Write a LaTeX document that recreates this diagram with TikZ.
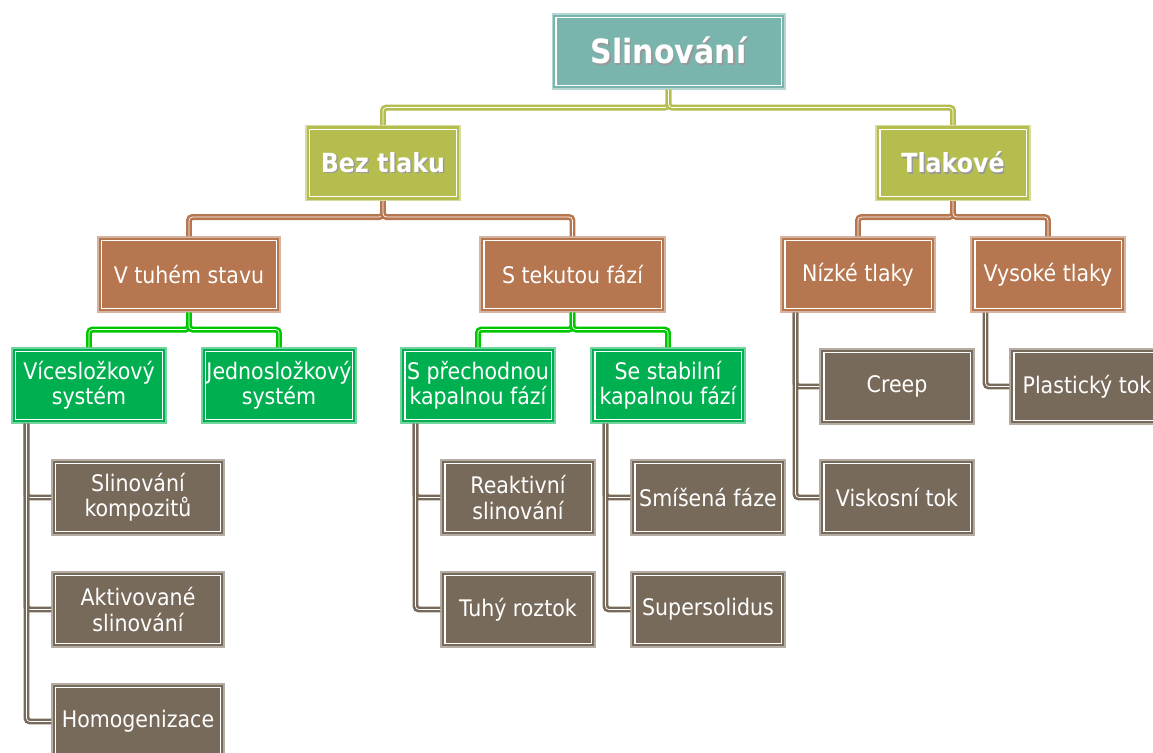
\documentclass[tikz,border=0pt]{standalone}
\usepackage{fontspec}
\setmainfont{DejaVu Sans Condensed}
\usepackage{xcolor}
\usetikzlibrary{calc}
\definecolor{tealbox}{HTML}{79B4AD}
\definecolor{olivebox}{HTML}{B5BD4E}
\definecolor{brownbox}{HTML}{B57650}
\definecolor{greenbox}{HTML}{00B050}
\definecolor{greenlink}{HTML}{00C800}
\definecolor{graybox}{HTML}{786A5A}
\newcommand{\shadowed}[1]{\makebox[0pt][l]{\hspace{0.8pt}\raisebox{-0.8pt}{\textcolor{black!40}{#1}}}#1}
\tikzset{box/.style={draw=#1!55!white, line width=0.6pt, fill=#1, text=white,
   align=center, minimum width=3.08cm, minimum height=1.5cm, inner sep=1pt,
   font=\fontsize{13}{14.5}\selectfont,
   path picture={\draw[white, line width=0.7pt]
     ([shift={(2.2pt,-2.2pt)}]path picture bounding box.north west) rectangle
     ([shift={(-2.2pt,2.2pt)}]path picture bounding box.south east);}},
 link/.style={draw=#1, line width=1.5pt, double=white, double distance=0.4pt,
   rounded corners=2pt},
 }

\begin{document}
\begin{tikzpicture}[x=0.02cm, y=-0.02cm]
        \clip (0,0) rectangle (1153,753);
        \fill[white] (0,0) rectangle (1153,753);
        % top levels
        \node[box=tealbox, minimum width=4.66cm, font=\bfseries\fontsize{19}{21}\selectfont] (root) at (668.5,51.5) {\shadowed{Slinování}};
        \node[box=olivebox, font=\bfseries\fontsize{15}{17}\selectfont] (bez) at (383,163) {\shadowed{Bez tlaku}};
        \node[box=olivebox, font=\bfseries\fontsize{15}{17}\selectfont] (tlak) at (953,163) {\shadowed{Tlakové}};
        \node[box=brownbox, minimum width=3.64cm] (tuhy) at (189,274.5) {V tuhém stavu};
        \node[box=brownbox, minimum width=3.7cm] (tekuty) at (572.5,274.5) {S tekutou fází};
        \node[box=brownbox] (nizke) at (858,274.5) {Nízké tlaky};
        \node[box=brownbox] (vysoke) at (1048,274.5) {Vysoké tlaky};
        % systems
        \node[box=greenbox] (vice) at (89,385.5) {Vícesložkový\\systém};
        \node[box=greenbox] (jedno) at (279,385.5) {Jednosložkový\\systém};
        \node[box=greenbox] (prechod) at (478,385.5) {S přechodnou\\kapalnou fází};
        \node[box=greenbox] (stabil) at (668,385.5) {Se stabilní\\kapalnou fází};
        % leaves
        \node[box=graybox, minimum width=3.44cm] (kompozit) at (138,497.5) {Slinování\\kompozitů};
        \node[box=graybox, minimum width=3.44cm] (aktiv) at (138,609.5) {Aktivované\\slinování};
        \node[box=graybox, minimum width=3.44cm] (homog) at (138,721.5) {Homogenizace};
        \node[box=graybox] (reakt) at (518,497.5) {Reaktivní\\slinování};
        \node[box=graybox] (roztok) at (518,609.5) {Tuhý roztok};
        \node[box=graybox] (smisena) at (708,497.5) {Smíšená fáze};
        \node[box=graybox] (supers) at (708,609.5) {Supersolidus};
        \node[box=graybox] (creep) at (897,386.5) {Creep};
        \node[box=graybox] (viskos) at (897,497.5) {Viskosní tok};
        \node[box=graybox] (plast) at (1087,386.5) {Plastický tok};

        \draw[link=olivebox] (root.south) -- ++(0,18) -| (bez.north);
        \draw[link=olivebox] (root.south) -- ++(0,18) -| (tlak.north);
        \draw[link=brownbox] (bez.south) -- ++(0,16) -| (tuhy.north);
        \draw[link=brownbox] (bez.south) -- ++(0,16) -| (tekuty.north);
        \draw[link=brownbox] (tlak.south) -- ++(0,16) -| (nizke.north);
        \draw[link=brownbox] (tlak.south) -- ++(0,16) -| (vysoke.north);
        \draw[link=greenlink] (tuhy.south) -- ++(0,17) -| (vice.north);
        \draw[link=greenlink] (tuhy.south) -- ++(0,17) -| (jedno.north);
        \draw[link=greenlink] (tekuty.south) -- ++(0,17) -| (prechod.north);
        \draw[link=greenlink] (tekuty.south) -- ++(0,17) -| (stabil.north);
        \draw[link=graybox] ($(vice.south west)+(15,0)$) |- (kompozit.west);
        \draw[link=graybox] ($(vice.south west)+(15,0)$) |- (aktiv.west);
        \draw[link=graybox] ($(vice.south west)+(15,0)$) |- (homog.west);
        \draw[link=graybox] ($(prechod.south west)+(15,0)$) |- (reakt.west);
        \draw[link=graybox] ($(prechod.south west)+(15,0)$) |- (roztok.west);
        \draw[link=graybox] ($(stabil.south west)+(15,0)$) |- (smisena.west);
        \draw[link=graybox] ($(stabil.south west)+(15,0)$) |- (supers.west);
        \draw[link=graybox] ($(nizke.south west)+(15,0)$) |- (creep.west);
        \draw[link=graybox] ($(nizke.south west)+(15,0)$) |- (viskos.west);
        \draw[link=graybox] ($(vysoke.south west)+(15,0)$) |- (plast.west);
    \end{tikzpicture}
\end{document}
